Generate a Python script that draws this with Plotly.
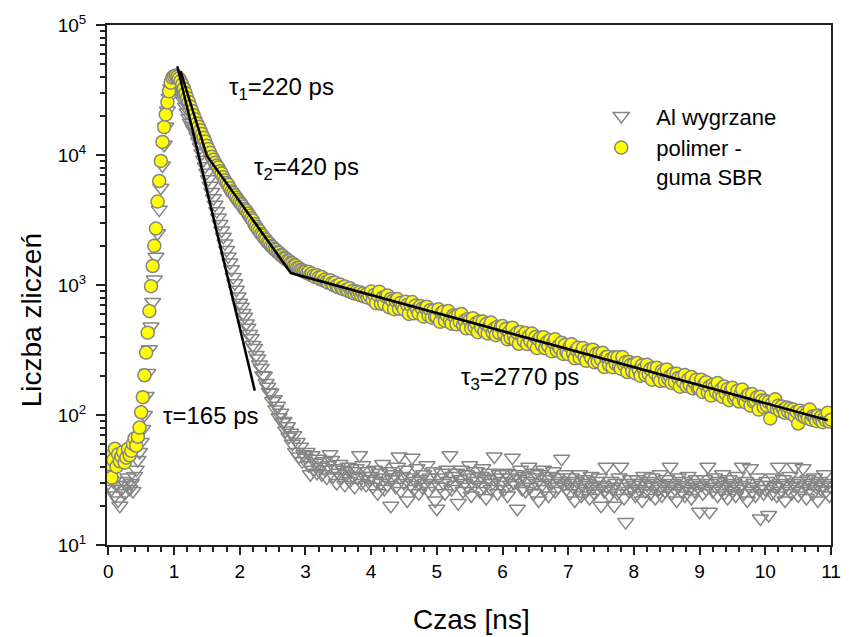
import plotly.graph_objects as go

DT = 0.025  # channel width [ns]

# ---- polimer - guma SBR (yellow circles), rows of 1 ns ----
pol_r0 = [42, 48, 33, 45, 55, 40, 50, 44, 48, 52, 43, 47, 55, 49, 53, 60, 66, 58, 68, 80,
          105, 137, 202, 302, 430, 630, 980, 1400, 2000, 2720, 4380, 6310, 9000, 12600, 16400, 20500, 25400, 30900, 36000, 39400]
pol_r1 = [40200, 40800, 40000, 38800, 37000, 34800, 32500, 30000, 27500, 25600, 23600, 21800, 20200, 18800, 17500, 16500, 15500, 14500, 13600, 12700,
          11800, 11100, 10400, 9700, 9200, 8700, 8300, 8000, 7500, 7200, 6750, 6400, 6100, 5900, 5550, 5250, 5100, 4900, 4700, 4500]
pol_r2 = [4330, 4180, 4010, 3840, 3730, 3550, 3410, 3260, 3130, 2950, 2810, 2690, 2600, 2470, 2400, 2290, 2230, 2130, 2090, 2000,
          1960, 1890, 1860, 1790, 1770, 1700, 1680, 1620, 1600, 1550, 1530, 1480, 1470, 1420, 1410, 1360, 1350, 1310, 1300, 1270]
pol_r3 = [1270, 1235, 1260, 1200, 1225, 1180, 1150, 1190, 1140, 1110, 1150, 1085, 1100, 1060, 1040, 1090, 1030, 1000, 1045, 985,
          960, 1010, 950, 930, 975, 920, 900, 945, 880, 905, 860, 890, 850, 880, 830, 860, 815, 845, 800, 830]
pol_r4 = [891, 769, 836, 725, 840, 889, 717, 798, 721, 815, 832, 674, 781, 752, 651, 756, 779, 657, 730, 683,
          649, 742, 701, 599, 703, 739, 605, 694, 649, 604, 690, 659, 570, 668, 681, 582, 640, 561, 635, 570]
pol_r5 = [571, 650, 521, 610, 623, 531, 584, 630, 530, 504, 583, 568, 498, 586, 522, 598, 493, 531, 464, 548,
          534, 463, 556, 476, 507, 434, 523, 471, 525, 440, 498, 424, 481, 514, 431, 461, 411, 476, 427, 477]
pol_r6 = [483, 418, 458, 382, 434, 392, 469, 407, 375, 429, 353, 435, 403, 372, 428, 351, 402, 372, 423, 348,
          398, 327, 380, 392, 345, 396, 326, 362, 338, 377, 309, 361, 382, 314, 339, 323, 360, 295, 345, 304]
pol_r7 = [294, 337, 350, 297, 273, 317, 329, 276, 303, 328, 278, 261, 311, 295, 275, 318, 254, 294, 258, 300,
          268, 301, 234, 278, 281, 242, 269, 233, 278, 247, 278, 236, 227, 279, 243, 255, 214, 256, 243, 217]
pol_r8 = [246, 209, 251, 221, 200, 241, 227, 203, 244, 207, 225, 187, 230, 209, 231, 193, 183, 217, 209, 184,
          224, 190, 199, 176, 208, 180, 208, 193, 165, 195, 179, 203, 167, 187, 170, 196, 160, 177, 187, 160]
pol_r9 = [161, 187, 150, 174, 179, 149, 165, 141, 171, 164, 150, 176, 143, 157, 138, 166, 146, 158, 130, 154,
          162, 135, 140, 153, 127, 146, 157, 130, 125, 140, 144, 118, 145, 126, 129, 137, 110, 138, 129, 115]
pol_r10 = [128, 118, 126, 94, 122, 115, 132, 112, 118, 108, 116, 110, 104, 114, 106, 112, 102, 110, 98, 106,
           86, 108, 100, 104, 96, 102, 94, 110, 92, 98, 96, 90, 99, 93, 97, 88, 95, 91, 104, 89, 92]

# ---- Al wygrzane (open grey triangles) ----
al_r0 = [30, 34, 27, 31, 24, 29, 22, 20, 27, 31, 25, 29, 33, 27, 30, 26, 34, 38, 45, 52,
         62, 78, 100, 140, 210, 320, 480, 740, 1100, 1650, 2500, 3800, 5600, 8300, 12000, 16500, 22000, 27500, 32500, 36000]
al_r1 = [37500, 37000, 35500, 33500, 31000, 28500, 26000, 23500, 21200, 19300, 17700, 16700, 15800, 15000, 13900, 12700, 11500, 10300, 9200, 8200,
         7300, 6500, 5800, 5200, 4650, 4150, 3700, 3300, 2950, 2630, 2350, 2090, 1860, 1660, 1490, 1320, 1150, 1030, 920, 815]
al_r2 = [730, 680, 610, 570, 505, 470, 420, 390, 345, 328, 290, 272, 245, 230, 202, 200, 176, 165, 150, 148,
         128, 132, 110, 118, 96, 104, 88, 90, 76, 82, 68, 73, 60, 70, 52, 62, 48, 57, 44, 50]
al_r3 = [47, 52, 41, 35, 49, 38, 43, 36, 46, 40, 35, 44, 38, 33, 41, 50, 45, 34, 39, 30,
         36, 42, 33, 38, 29, 35, 40, 31, 37, 34, 28, 39, 33, 49, 30, 41, 34, 29, 37, 32]
al_r4 = [34, 28, 38, 31, 25, 36, 30, 42, 27, 33, 29, 37, 20, 32, 35, 28, 40, 48, 26, 34,
         30, 38, 22, 33, 29, 47, 27, 31, 39, 25, 32, 28, 35, 30, 41, 26, 33, 29, 37, 22]
al_r5 = [19, 33, 28, 36, 30, 25, 38, 31, 49, 27, 34, 29, 36, 21, 32, 38, 26, 30, 35, 28,
         41, 24, 33, 29, 37, 31, 26, 34, 39, 28, 23, 32, 36, 27, 30, 48, 33, 25, 35, 29]
al_r6 = [31, 27, 36, 24, 33, 29, 47, 30, 35, 19, 32, 38, 27, 34, 26, 31, 40, 28, 33, 25,
         36, 30, 22, 35, 29, 38, 27, 32, 24, 34, 30, 37, 26, 33, 28, 31, 46, 29, 35, 27]
al_r7 = [30, 25, 33, 28, 22, 31, 27, 35, 24, 29, 32, 26, 30, 23, 34, 28, 25, 31, 27, 33,
         20, 29, 26, 40, 28, 24, 31, 27, 20, 30, 25, 33, 40, 28, 23, 15, 30, 26, 32, 27]
al_r8 = [29, 24, 32, 27, 30, 22, 34, 26, 29, 31, 25, 33, 28, 23, 30, 27, 35, 24, 29, 26,
         32, 28, 40, 25, 30, 27, 22, 33, 29, 26, 31, 24, 28, 34, 27, 23, 30, 26, 32, 28]
al_r9 = [18, 29, 25, 32, 27, 40, 18, 30, 26, 33, 28, 24, 31, 27, 35, 25, 29, 23, 32, 28,
         26, 30, 24, 34, 27, 29, 40, 25, 31, 22, 28, 39, 26, 30, 24, 33, 27, 16, 29, 25]
al_r10 = [27, 31, 17, 29, 25, 33, 28, 24, 40, 30, 26, 32, 22, 29, 27, 34, 25, 30, 40, 28,
          24, 31, 26, 39, 29, 23, 32, 27, 30, 25, 33, 28, 22, 31, 27, 29, 35, 26, 30, 24, 28]

polimer = (pol_r0 + pol_r1 + pol_r2 + pol_r3 + pol_r4 + pol_r5 + pol_r6 + pol_r7 + pol_r8 + pol_r9 + pol_r10)
al = (al_r0 + al_r1 + al_r2 + al_r3 + al_r4 + al_r5 + al_r6 + al_r7 + al_r8 + al_r9 + al_r10)
czas = [round(i * DT, 3) for i in range(len(polimer))]

# ---- fitted exponential segments ----
fit_al_x = [1.05, 2.229]
fit_al_y = [48100, 154]
fit_pol_x = [1.10, 1.50, 2.779, 10.95]
fit_pol_y = [44000, 9880, 1236, 91]

x_ticks = list(range(0, 12))
y_ticks = [10, 100, 1000, 10000, 100000]
y_ticktext = ["10<sup>1</sup>", "10<sup>2</sup>", "10<sup>3</sup>", "10<sup>4</sup>", "10<sup>5</sup>"]
y_minor = [m * 10 ** d for d in range(1, 5) for m in range(2, 10)]

FONT = "Arial, 'Liberation Sans', sans-serif"
AX = "#222222"

fig = go.Figure()
fig.add_trace(go.Scatter(
    x=czas, y=al, mode="markers", name="Al wygrzane",
    marker=dict(symbol="triangle-down-open", size=14, color="#858585", line=dict(width=1.5, color="#858585")),
))
fig.add_trace(go.Scatter(
    x=czas, y=polimer, mode="markers", name="polimer -<br>guma SBR",
    marker=dict(symbol="circle", size=13, color="#FFFF00", line=dict(width=1.5, color="#858585")),
))
fig.add_trace(go.Scatter(x=fit_al_x, y=fit_al_y, mode="lines", showlegend=False,
                         line=dict(color="black", width=2.5)))
fig.add_trace(go.Scatter(x=fit_pol_x, y=fit_pol_y, mode="lines", showlegend=False,
                         line=dict(color="black", width=2.5)))

ann_font = dict(family=FONT, size=24, color="black")
annotations = [
    dict(text="τ<sub>1</sub>=220 ps", x=2.63, y=4.51),
    dict(text="τ<sub>2</sub>=420 ps", x=3.01, y=3.90),
    dict(text="τ=165 ps", x=1.556, y=2.0),
    dict(text="τ<sub>3</sub>=2770 ps", x=6.27, y=2.28),
]
for a in annotations:
    a.update(xref="x", yref="y", showarrow=False, font=ann_font)

title_font = dict(family=FONT, size=28, color="black")
annotations += [
    dict(text="Czas [ns]", xref="paper", yref="paper", x=0.503, y=-0.143,
         xanchor="center", yanchor="middle", showarrow=False, font=title_font),
    dict(text="Liczba zliczeń", xref="paper", yref="paper", x=-0.105, y=0.432,
         xanchor="center", yanchor="middle", textangle=-90, showarrow=False, font=title_font),
]

fig.update_layout(
    width=853, height=637,
    margin=dict(l=107, r=13, t=20, b=92),
    paper_bgcolor="white", plot_bgcolor="white",
    font=dict(family=FONT, color="black"),
    annotations=annotations,
    legend=dict(x=0.662, y=0.865, xanchor="left", yanchor="top",
                bgcolor="rgba(0,0,0,0)", borderwidth=0,
                font=dict(family=FONT, size=22, color="black"),
                valign="top", itemwidth=60),
)
fig.update_xaxes(
    range=[-0.02, 11.0], showline=True, linecolor=AX, linewidth=2, mirror=True,
    ticks="outside", ticklen=8, tickwidth=1.5, tickcolor=AX,
    tickmode="array", tickvals=x_ticks, tickfont=dict(family=FONT, size=19, color="black"),
    showgrid=False, zeroline=False,
    minor=dict(ticks="outside", ticklen=5, tickwidth=1.5, tickcolor=AX, dtick=0.2, tick0=0, showgrid=False),
)
fig.update_yaxes(
    type="log", range=[1, 5], showline=True, linecolor=AX, linewidth=2, mirror=True,
    ticks="outside", ticklen=9, tickwidth=1.5, tickcolor=AX,
    tickmode="array", tickvals=y_ticks, ticktext=y_ticktext,
    tickfont=dict(family=FONT, size=19, color="black"), ticklabelstandoff=6,
    showgrid=False, zeroline=False,
    minor=dict(ticks="outside", ticklen=5, tickwidth=1.5, tickcolor=AX,
               tickmode="array", tickvals=y_minor, showgrid=False),
)

fig.write_html("out.html")
